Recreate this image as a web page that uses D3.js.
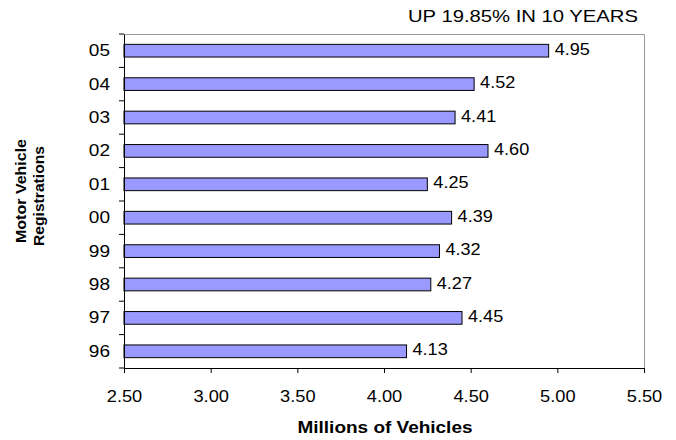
<!DOCTYPE html>
<html>
<head>
<meta charset="utf-8">
<script src="https://cdn.jsdelivr.net/npm/d3@7/dist/d3.min.js"></script>
<style>
  body { margin: 0; background: #fff; }
  svg { font-family: "Liberation Sans", Arial, sans-serif; }
</style>
</head>
<body>
<svg class="chart"></svg>
<script>
const years = ["96", "97", "98", "99", "00", "01", "02", "03", "04", "05"];
const registrations = [4.13, 4.45, 4.27, 4.32, 4.39, 4.25, 4.60, 4.41, 4.52, 4.95];
const xTicks = [2.5, 3.0, 3.5, 4.0, 4.5, 5.0, 5.5];
const titleText = "UP 19.85% IN 10 YEARS";

const
  margin = {top: 34, right: 32, bottom: 72, left: 124},
  width = 520,
  height = 334;

// the original text is a bit wider than Arial, stretch glyphs a little
function stretch(sel, k) {
  sel.each(function() {
    const len = this.getComputedTextLength();
    d3.select(this)
      .attr("textLength", len * k)
      .attr("lengthAdjust", "spacingAndGlyphs");
  });
}

const svg = d3.select(".chart")
  .attr("width", 676)
  .attr("height", 440);

const g = svg.append("g")
  .attr("transform", `translate(${margin.left},${margin.top})`);

const xScale = d3.scaleLinear()
  .domain([2.5, 5.5])
  .range([0, width]);

const yScale = d3.scaleBand()
  .domain(years.slice().reverse())
  .range([0, height])
  .paddingInner(0.62)
  .paddingOuter(0.31);

// plot area border (gray top/right)
g.append("path")
  .attr("d", `M0,0.5H${width + 0.5}V${height}`)
  .attr("fill", "none")
  .attr("stroke", "#999")
  .attr("stroke-width", 1);

// bars
g.selectAll("rect.bar")
  .data(registrations)
  .enter()
  .append("rect")
    .attr("class", "bar")
    .attr("x", xScale(2.5))
    .attr("y", (d, i) => yScale(years[i]))
    .attr("width", d => xScale(d) - xScale(2.5))
    .attr("height", yScale.bandwidth())
    .attr("fill", "#9999ff")
    .attr("stroke", "#000")
    .attr("stroke-width", 1);

// value labels
g.selectAll("text.val")
  .data(registrations)
  .enter()
  .append("text")
    .attr("class", "val")
    .attr("x", d => xScale(d) + 6)
    .attr("y", (d, i) => yScale(years[i]) + yScale.bandwidth() / 2)
    .attr("dy", "0.25em")
    .attr("font-size", 16)
    .attr("fill", "#000")
    .text(d => d.toFixed(2))
    .call(stretch, 1.13);

// x axis
const xAxis = d3.axisBottom(xScale)
  .tickValues(xTicks)
  .tickFormat(d3.format(".2f"))
  .tickSize(5)
  .tickSizeOuter(0)
  .tickPadding(18);

const xg = g.append("g")
  .attr("transform", `translate(0,${height})`)
  .call(xAxis);
xg.select(".domain").attr("stroke", "#000");
xg.selectAll("text")
  .attr("font-size", 16)
  .attr("fill", "#000")
  .attr("font-family", null)
  .call(stretch, 1.14);

// y axis: ticks at category boundaries
const yAxis = d3.axisLeft(yScale).tickSize(0).tickPadding(14);
const yg = g.append("g").call(yAxis);
yg.select(".domain").attr("stroke", "#000");
yg.selectAll("text")
  .attr("font-size", 17)
  .attr("fill", "#000")
  .attr("font-family", null)
  .call(stretch, 1.12);

const step = yScale.step();
yg.selectAll("line.sep")
  .data(d3.range(years.length + 1))
  .enter()
  .append("line")
    .attr("class", "sep")
    .attr("x1", -5)
    .attr("x2", 0)
    .attr("y1", i => i * step)
    .attr("y2", i => i * step)
    .attr("stroke", "#000");

// titles
svg.append("text")
  .attr("x", margin.left + width - 6)
  .attr("y", 22)
  .attr("text-anchor", "end")
  .attr("font-size", 16.5)
  .text(titleText)
  .attr("textLength", 230)
  .attr("lengthAdjust", "spacingAndGlyphs");

svg.append("text")
  .attr("x", margin.left + width / 2 + 1)
  .attr("y", 433)
  .attr("text-anchor", "middle")
  .attr("font-size", 17)
  .attr("font-weight", "bold")
  .text("Millions of Vehicles")
  .attr("textLength", 175)
  .attr("lengthAdjust", "spacingAndGlyphs");

const yTitle = svg.append("text")
  .attr("transform", `translate(26,193) rotate(-90)`)
  .attr("text-anchor", "middle")
  .attr("font-size", 14)
  .attr("font-weight", "bold");
yTitle.append("tspan").attr("x", 2).attr("dy", 0)
  .attr("textLength", 104).attr("lengthAdjust", "spacingAndGlyphs")
  .text("Motor Vehicle");
yTitle.append("tspan").attr("x", -3).attr("dy", 18)
  .attr("textLength", 100).attr("lengthAdjust", "spacingAndGlyphs")
  .text("Registrations");
</script>
</body>
</html>
